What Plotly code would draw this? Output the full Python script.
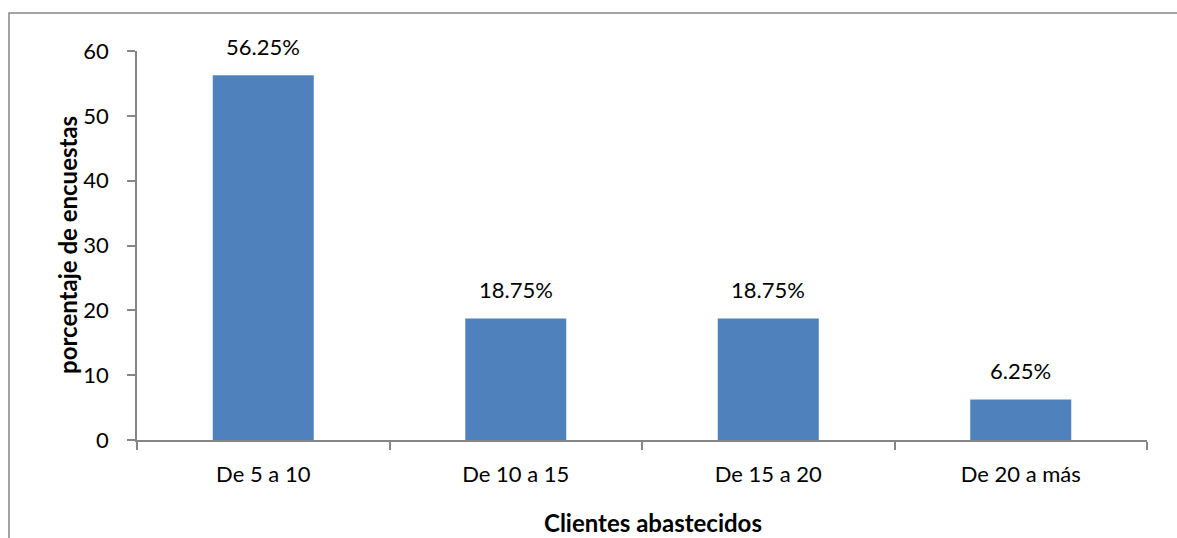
import plotly.graph_objects as go

# Survey results: share of respondents by number of clients supplied
categories = ["De 5 a 10", "De 10 a 15", "De 15 a 20", "De 20 a más"]
percentages = [56.25, 18.75, 18.75, 6.25]
value_labels = ["56.25%", "18.75%", "18.75%", "6.25%"]
y_ticks = [0, 10, 20, 30, 40, 50, 60]

FONT = "Lato, 'Noto Sans', sans-serif"
AXIS_GRAY = "#868686"
TXT = 22
TITLE = 24

W, H = 1177, 538
L, R, T, B = 137, 30, 51, 98
plot_w = W - L - R
plot_h = H - T - B


def px_to_paper_x(px):
    return (px - L) / plot_w


def px_to_paper_y(py):
    return (H - B - py) / plot_h


fig = go.Figure()
fig.add_trace(go.Bar(
    x=categories,
    y=percentages,
    width=0.4,
    marker=dict(color="#4F81BD", line=dict(width=0)),
    hoverinfo="skip",
))

# Value labels above each bar
for cat, val, lab in zip(categories, percentages, value_labels):
    fig.add_annotation(
        x=cat, y=val, text=lab, showarrow=False,
        xanchor="center", yanchor="bottom", yshift=13,
        font=dict(family=FONT, size=TXT, color="#000000"),
    )

# Axis titles
fig.add_annotation(
    xref="paper", yref="paper",
    x=px_to_paper_x(67), y=px_to_paper_y(245),
    text="<b>porcentaje de encuestas</b>", textangle=-90, showarrow=False,
    xanchor="center", yanchor="middle",
    font=dict(family=FONT, size=TITLE, color="#000000"),
)
fig.add_annotation(
    xref="paper", yref="paper",
    x=px_to_paper_x(653), y=px_to_paper_y(522),
    text="<b>Clientes abastecidos</b>", showarrow=False,
    xanchor="center", yanchor="middle",
    font=dict(family=FONT, size=TITLE, color="#000000"),
)

# Chart frame
fig.add_shape(
    type="rect", xref="paper", yref="paper",
    x0=px_to_paper_x(9), y0=px_to_paper_y(H + 40),
    x1=px_to_paper_x(W + 40), y1=px_to_paper_y(13),
    line=dict(color=AXIS_GRAY, width=1.5), fillcolor="rgba(0,0,0,0)",
    layer="below",
)

fig.update_layout(
    width=W, height=H,
    margin=dict(l=L, r=R, t=T, b=B, pad=0),
    paper_bgcolor="white", plot_bgcolor="white",
    showlegend=False,
    font=dict(family=FONT, size=TXT, color="#000000"),
    xaxis=dict(
        type="category",
        showline=True, linecolor=AXIS_GRAY, linewidth=1.5,
        ticks="outside", tickson="boundaries", ticklen=8,
        tickcolor=AXIS_GRAY, tickwidth=1.5,
        ticklabelstandoff=14,
        showgrid=False, zeroline=False,
        tickfont=dict(family=FONT, size=TXT, color="#000000"),
    ),
    yaxis=dict(
        range=[0, 60], tickvals=y_ticks,
        showline=True, linecolor=AXIS_GRAY, linewidth=1.5,
        ticks="outside", ticklen=8, tickcolor=AXIS_GRAY, tickwidth=1.5,
        ticklabelstandoff=14,
        showgrid=False, zeroline=False,
        tickfont=dict(family=FONT, size=TXT, color="#000000"),
    ),
)

fig.write_html("out.html")
